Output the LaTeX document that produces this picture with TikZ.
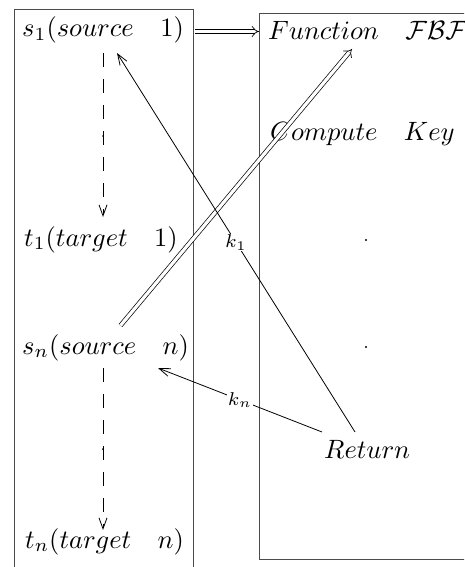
\documentclass[tikz,border=0pt]{standalone}
\usepackage{graphicx}
\usetikzlibrary{arrows.meta}
\newcommand{\xyt}[1]{\scalebox{2.65}{$#1$}}
\begin{document}
\begin{tikzpicture}[x=1pt,y=-1pt,
  lbl/.style={inner sep=0pt, anchor=base west},
  klbl/.style={inner sep=1pt, fill=white},
  frm/.style={draw=black!70, line width=1pt},
  xytip/.style={-{Straight Barb[length=11pt,width=8pt]}},
  dasharrow/.style={line width=0.8pt, dash pattern=on 14pt off 12pt, xytip},
  plain/.style={line width=0.8pt, xytip},
  dbl/.style={double, double distance=3.2pt, line width=0.7pt, -{Implies}},
  pt/.style={fill, circle, inner sep=0pt, minimum size=2.4pt}
]
\path[use as bounding box, clip] (0,0) rectangle (464,567);
% frames
\draw[frm] (14,10) rectangle (193,590);
\draw[frm] (259,14) rectangle (490,559);
% text nodes
\node[lbl] (s1) at (22,37) {\xyt{s_1(source\quad 1)}};
\node[lbl] (fn) at (268,40) {\xyt{Function\quad \mathcal{FBF}}};
\node[lbl] (ck) at (270,140) {\xyt{Compute\quad Key}};
\node[lbl] (t1) at (24,246) {\xyt{t_1(target\quad 1)}};
\node[lbl] (sn) at (22,354) {\xyt{s_n(source\quad n)}};
\node[lbl] (rt) at (324,458) {\xyt{Return}};
\node[lbl] (tn) at (25,548) {\xyt{t_n(target\quad n)}};
% dots
\node[pt] (d1) at (366,240) {};
\node[pt] (d2) at (366,347) {};
\node[pt, minimum size=2pt] (m1) at (103,136) {};
\node[pt, minimum size=2pt] (m2) at (103,449) {};
% connector end points
\coordinate (s1a) at (103,53);
\coordinate (t1a) at (103,217);
\coordinate (sna) at (103,368);
\coordinate (tna) at (103,530);
\coordinate (s1r) at (195,31.5);
\coordinate (fnl) at (259,31.5);
\coordinate (snu) at (120.5,325.5);
\coordinate (fnb) at (352,49);
\coordinate (rtA) at (355,432);
\coordinate (s1b) at (117,53);
\coordinate (rtB) at (322,432);
\coordinate (snr) at (158,368);
% connectors
\draw[dasharrow] (s1a) -- (t1a);
\draw[dasharrow] (sna) -- (tna);
\draw[dbl] (s1r) -- (fnl);
\draw[dbl] (snu) -- (fnb);
\draw[plain] (rtA) -- node[klbl] (k1) {\xyt{\scriptstyle k_1}} (s1b);
\draw[plain] (rtB) -- node[klbl] (kn) {\xyt{\scriptstyle k_n}} (snr);
\end{tikzpicture}
\end{document}
